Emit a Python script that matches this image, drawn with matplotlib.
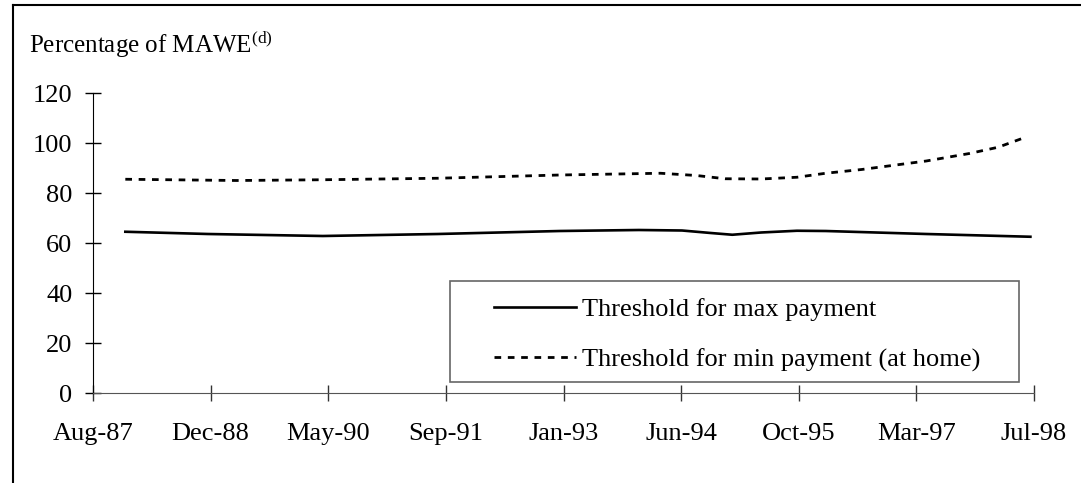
import matplotlib
matplotlib.use("Agg")
import matplotlib.pyplot as plt
from matplotlib.lines import Line2D

plt.rcParams['font.family'] = ['Liberation Serif', 'DejaVu Serif']
plt.rcParams['mathtext.fontset'] = 'custom'
plt.rcParams['mathtext.rm'] = 'Liberation Serif'
plt.rcParams['mathtext.it'] = 'Liberation Serif:italic'

# months counted from Aug-87
tick_labels = ['Aug-87', 'Dec-88', 'May-90', 'Sep-91', 'Jan-93',
               'Jun-94', 'Oct-95', 'Mar-97', 'Jul-98']
tick_months = [0, 16.375, 32.75, 49.125, 65.5, 81.875, 98.25, 114.625, 131]

max_months = [4.5, 16, 32, 48, 65, 76, 82, 86, 89, 93, 98, 102, 116, 130.5]
max_values = [64.5, 63.6, 62.8, 63.6, 64.8, 65.2, 65.0, 64.0, 63.3, 64.2,
              64.9, 64.8, 63.6, 62.5]

min_months = [4.5, 20, 32, 48, 65, 79, 84, 88, 93, 98, 102, 107, 116, 122, 126, 130]
min_values = [85.5, 85.0, 85.3, 85.9, 87.2, 87.9, 87.0, 85.7, 85.6, 86.3, 87.9,
              89.4, 92.8, 95.8, 98.3, 102.5]

W, H = 1081, 483
fig = plt.figure(figsize=(W / 100, H / 100), dpi=100)
ax = fig.add_axes([93 / W, 1 - 393 / H, (1034 - 93) / W, 300 / H])

ax.plot(max_months, max_values, color='black', lw=1.9,
        label='Threshold for max payment')
ax.plot(min_months, min_values, color='black', lw=2.0, linestyle=(0, (2.4, 2.4)),
        label='Threshold for min payment (at home)')

ax.set_xlim(0, 131)
ax.set_ylim(0, 120)
ax.set_yticks(range(0, 121, 20))
ax.set_xticks(tick_months)
ax.set_xticklabels(tick_labels)

for s in ['top', 'right']:
    ax.spines[s].set_visible(False)
ax.spines['left'].set_color('black')
ax.spines['bottom'].set_color('#555555')
ax.tick_params(axis='both', direction='inout', length=11.5, width=1,
               labelsize=19)
ax.tick_params(axis='y', pad=9)
ax.tick_params(axis='x', colors='#333333', labelcolor='black', pad=16)

fig.text(29 / W, 1 - 52 / H, r'Percentage of MAWE$^{\mathrm{(d)}}$',
         fontsize=18, va='baseline', ha='left')

# legend box and entries
fig.patches.append(plt.Rectangle((450 / W, 1 - 382 / H), (1019 - 450) / W,
                                 (382 - 281) / H, transform=fig.transFigure,
                                 fill=False, edgecolor='#666666', lw=1.2))
leg = ax.legend(loc='upper left', bbox_to_anchor=(494 / W, 1 - 298 / H),
                bbox_transform=fig.transFigure, frameon=False, fontsize=19,
                handlelength=3.1, handletextpad=0.23, labelspacing=1.0,
                borderpad=0, borderaxespad=0)

# figure border (left and top visible)
fig.add_artist(Line2D([13 / W, 13 / W], [0, 1 - 5 / H], color='black', lw=1.5,
                      transform=fig.transFigure))
fig.add_artist(Line2D([13 / W, 1], [1 - 5 / H, 1 - 5 / H], color='black', lw=1.5,
                      transform=fig.transFigure))

fig.savefig('out.png', dpi=100)
